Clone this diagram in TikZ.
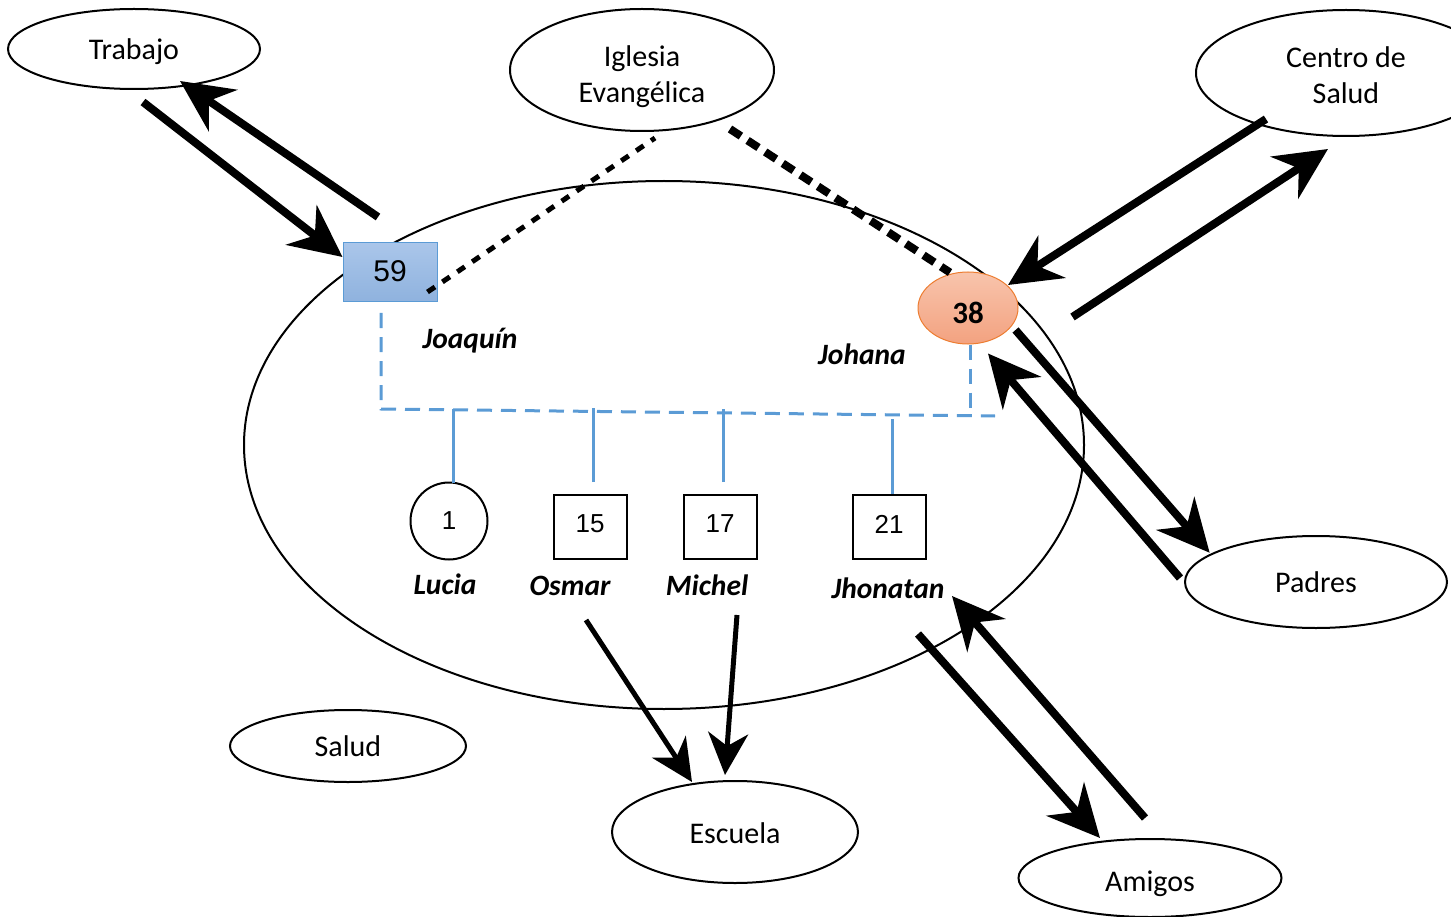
\documentclass[tikz,border=0pt]{standalone}
\usepackage{fontspec}
\setmainfont{Carlito}
\newfontfamily\arialfont{Liberation Sans}
\usetikzlibrary{arrows.meta}
\usetikzlibrary{shapes.geometric}
\definecolor{azulfam}{RGB}{91,155,213}
\definecolor{azularr}{RGB}{170,198,234}
\definecolor{azulaba}{RGB}{143,178,222}
\definecolor{naranja}{RGB}{237,125,49}
\definecolor{salmonarr}{RGB}{248,196,172}
\definecolor{salmonaba}{RGB}{243,162,128}
% baja el texto sin cambiar el tamano de su caja
\newcommand{\bajar}[2]{\raisebox{-#1}[\height][\depth]{#2}}

\begin{document}
\begin{tikzpicture}[x=1pt,y=-1pt,
    lugar/.style={ellipse,draw,line width=2pt,inner sep=0pt,align=center,
      font=\fontsize{30}{36}\selectfont},
    nombre/.style={inner sep=0pt,font=\fontsize{29.5}{30}\selectfont\bfseries\itshape},
    hijo/.style={draw,line width=2pt,minimum width=73pt,minimum height=64pt,
      font=\arialfont\fontsize{26}{28}\selectfont},
    flecha/.style={line width=8pt,-{Stealth[length=52pt,width=50pt,inset=17pt]}},
    flechita/.style={line width=5pt,-{Stealth[length=42pt,width=40pt,inset=13pt]}},
    familia/.style={azulfam,line width=3pt,dash pattern=on 15pt off 9pt},
    linea/.style={azulfam,line width=3pt},
    iglesia/.style={line width=5pt,dash pattern=on 9pt off 9pt}]
    \useasboundingbox (0,0) rectangle (1451,917);
    \clip (0,0) rectangle (1451,917);
    % hogar y ambientes
    \node[ellipse,draw,line width=2pt,minimum width=840pt,minimum height=528pt] (hogar) at (664,445) {};
    \node[lugar,minimum width=252pt,minimum height=80pt] (trab) at (134,49) {\bajar{3pt}{Trabajo}};
    \node[lugar,minimum width=264pt,minimum height=122pt] (igl) at (642,70)
      {\bajar{7pt}{\begin{tabular}{@{}c@{}}Iglesia\\Evangélica\end{tabular}}};
    \node[lugar,minimum width=300pt,minimum height=126pt] (cs) at (1346,73)
      {\bajar{5.5pt}{\begin{tabular}{@{}c@{}}Centro de\\Salud\end{tabular}}};
    \node[lugar,minimum width=262pt,minimum height=92pt] (padres) at (1316,582) {Padres};
    \node[lugar,minimum width=263pt,minimum height=78pt] (amigos) at (1150,878) {\bajar{6pt}{Amigos}};
    \node[lugar,minimum width=246pt,minimum height=102pt] (esc) at (735,832) {\bajar{1pt}{Escuela}};
    \node[lugar,minimum width=236pt,minimum height=72pt] (salud) at (348,746) {Salud};
    % padres de familia
    \node[draw=azulfam,line width=1pt,top color=azularr,bottom color=azulaba,
      minimum width=94pt,minimum height=59pt,font=\arialfont\fontsize{30}{30}\selectfont] (f59) at (390,272) {\bajar{-1pt}{59}};
    \node[ellipse,draw=naranja,line width=1pt,top color=salmonarr,bottom color=salmonaba,
      minimum width=100pt,minimum height=72pt,inner sep=0pt,
      font=\fontsize{31}{30}\selectfont\bfseries] (f38) at (968,308) {\bajar{5pt}{38}};
    \node[nombre] (joaq) at (470,341) {Joaquín};
    \node[nombre] (joha) at (862,354) {Johana};
    % hijos
    \node[circle,draw,line width=2pt,minimum size=77pt,inner sep=0pt,
      font=\arialfont\fontsize{26}{28}\selectfont] (c1) at (449,521) {1};
    \node[hijo] (c15) at (590,527) {\bajar{-3pt}{15}};
    \node[hijo] (c17) at (720,527) {\bajar{-3pt}{17}};
    \node[hijo] (c21) at (889,527) {\bajar{-3pt}{21}};
    \node[nombre] (lucia) at (445,584) {Lucia};
    \node[nombre] (osmar) at (570,586) {Osmar};
    \node[nombre] (michel) at (707,585) {Michel};
    \node[nombre] (jhon) at (888,588) {Jhonatan};
    % lazos familiares
    \coordinate (fi) at (381,409);
    \coordinate (fd) at (995,416);
    \draw[familia] ([shift={(-9,11)}]f59.south) -- (fi) -- (fd);
    \draw[familia] ([shift={(2,0)}]f38.south) -- ++(0,66);
    \draw[linea] ([shift={(4,1)}]c1.north) -- ++(0,-74);
    \draw[linea] ([shift={(3,-12)}]c15.north) -- ++(0,-74);
    \draw[linea] ([shift={(3,-12)}]c17.north) -- ++(0,-73);
    \draw[linea] ([shift={(3,0)}]c21.north) -- ++(0,-75);
    % iglesia
    \draw[iglesia] ([shift={(-10,-10)}]f59.south east) -- ([shift={(13,6)}]igl.south);
    \draw[iglesia,line width=8pt,dash pattern=on 13pt off 8pt] ([shift={(88,-3)}]igl.south) -- ([shift={(-18,1)}]f38.north);
    % flechas
    \draw[flecha] ([shift={(9,12)}]trab.south) -- ([shift={(0,-15)}]f59.west);
    \draw[flecha] ([shift={(-12,-25)}]f59.north) -- ([shift={(46,-9)}]trab.south);
    \draw[flecha] ([shift={(-80,-18)}]cs.south) -- ([shift={(40,-23)}]f38.center);
    \draw[flecha] ([shift={(54,9)}]f38.east) -- ([shift={(-18,12)}]cs.south);
    \draw[flecha] ([shift={(-3,22)}]f38.east) -- ([shift={(-13,4)}]padres.north west);
    \draw[flecha] ([shift={(-4,-4)}]padres.west) -- ([shift={(20,9)}]f38.south);
    \draw[flechita] ([shift={(16,34)}]osmar.center) -- ([shift={(-43,2)}]esc.north);
    \draw[flechita] ([shift={(30,30)}]michel.center) -- ([shift={(-10,-5)}]esc.north);
    \draw[flecha] ([shift={(30,46)}]jhon.center) -- ([shift={(-50,0)}]amigos.north);
    \draw[flecha] ([shift={(-5,-20)}]amigos.north) -- ([shift={(64,8)}]jhon.center);
\end{tikzpicture}
\end{document}
